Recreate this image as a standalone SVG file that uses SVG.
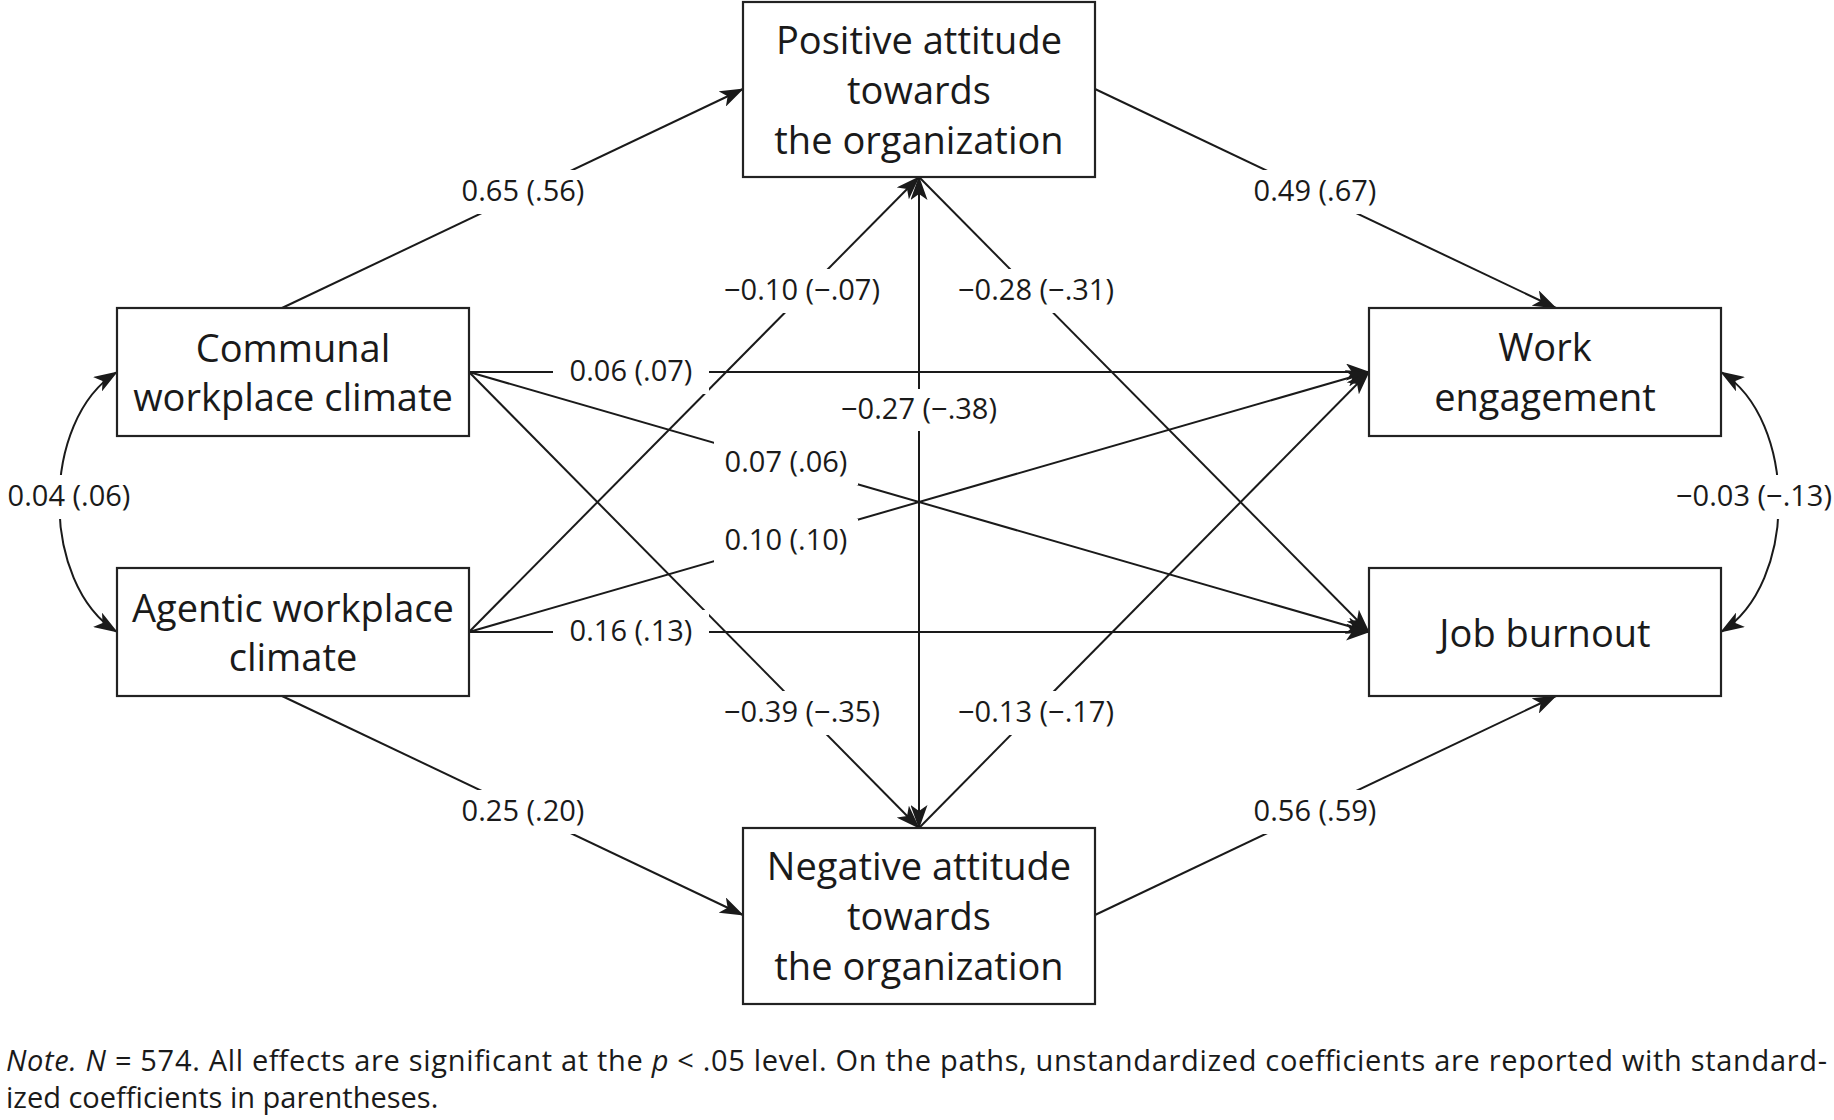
<svg xmlns="http://www.w3.org/2000/svg" width="1834" height="1120" viewBox="0 0 1834 1120">
  <defs>
    <marker id="ah" viewBox="0 0 24 17" markerUnits="userSpaceOnUse" markerWidth="24" markerHeight="17" refX="23" refY="8.5" orient="auto-start-reverse">
      <path d="M0,0 L24,8.5 L0,17 L6,8.5 Z" fill="#1a1a1a"/>
    </marker>
  </defs>
  <style>
    .box { fill: #ffffff; stroke: #222222; stroke-width: 2.2; }
    .node { font-family: "Open Sans", "Noto Sans", sans-serif; font-size: 38px; fill: #1a1a1a; text-anchor: middle; }
    .edge { fill: none; stroke: #1a1a1a; stroke-width: 2; }
    .arr { marker-end: url(#ah); }
    .both { marker-start: url(#ah); marker-end: url(#ah); }
    .lbl { font-family: "Open Sans", "Noto Sans", sans-serif; font-size: 29px; fill: #1a1a1a; text-anchor: middle; }
    .gap { fill: #ffffff; }
    .note { font-family: "Open Sans", "Noto Sans", sans-serif; font-size: 29px; fill: #1a1a1a; }
  </style>
  <rect x="0" y="0" width="1834" height="1120" fill="#ffffff"/>

  <g id="connectors">
    <line class="edge arr" x1="282" y1="308" x2="743" y2="89"/>
    <line class="edge arr" x1="1095" y1="89" x2="1556" y2="308"/>
    <line class="edge arr" x1="282" y1="696" x2="743" y2="915"/>
    <line class="edge arr" x1="1095" y1="915" x2="1556" y2="696"/>
    <line class="edge arr" x1="469" y1="372" x2="1369" y2="372"/>
    <line class="edge arr" x1="469" y1="632" x2="1369" y2="632"/>
    <line class="edge arr" x1="469" y1="372" x2="1369" y2="632"/>
    <line class="edge arr" x1="469" y1="632" x2="1369" y2="372"/>
    <line class="edge arr" x1="469" y1="372" x2="919" y2="828"/>
    <line class="edge arr" x1="469" y1="632" x2="919" y2="177"/>
    <line class="edge arr" x1="919" y1="177" x2="1369" y2="632"/>
    <line class="edge arr" x1="919" y1="828" x2="1369" y2="372"/>
    <line class="edge both" x1="919" y1="177" x2="919" y2="828"/>
    <path class="edge both" d="M117,372 C40,420 40,584 117,632"/>
    <path class="edge both" d="M1721,372 C1798,420 1798,584 1721,632"/>
  </g>

  <g id="edge-labels">
    <rect class="gap" x="451" y="170" width="145" height="44"/>
    <text class="lbl" x="523" y="201">0.65 (.56)</text>
    <rect class="gap" x="1243" y="170" width="145" height="44"/>
    <text class="lbl" x="1315" y="201">0.49 (.67)</text>
    <rect class="gap" x="713" y="269" width="178" height="44"/>
    <text class="lbl" x="802" y="300">−0.10 (−.07)</text>
    <rect class="gap" x="947" y="269" width="178" height="44"/>
    <text class="lbl" x="1036" y="300">−0.28 (−.31)</text>
    <rect class="gap" x="553" y="350" width="156" height="44"/>
    <text class="lbl" x="631" y="381">0.06 (.07)</text>
    <rect class="gap" x="833" y="389" width="172" height="42"/>
    <text class="lbl" x="919" y="419">−0.27 (−.38)</text>
    <rect class="gap" x="714" y="441" width="144" height="44"/>
    <text class="lbl" x="786" y="472">0.07 (.06)</text>
    <rect class="gap" x="1" y="475" width="136" height="44"/>
    <text class="lbl" x="69" y="506">0.04 (.06)</text>
    <rect class="gap" x="1672" y="475" width="162" height="44"/>
    <text class="lbl" x="1754" y="506">−0.03 (−.13)</text>
    <rect class="gap" x="714" y="519" width="144" height="44"/>
    <text class="lbl" x="786" y="550">0.10 (.10)</text>
    <rect class="gap" x="553" y="610" width="156" height="44"/>
    <text class="lbl" x="631" y="641">0.16 (.13)</text>
    <rect class="gap" x="713" y="691" width="178" height="44"/>
    <text class="lbl" x="802" y="722">−0.39 (−.35)</text>
    <rect class="gap" x="947" y="691" width="178" height="44"/>
    <text class="lbl" x="1036" y="722">−0.13 (−.17)</text>
    <rect class="gap" x="451" y="790" width="145" height="44"/>
    <text class="lbl" x="523" y="821">0.25 (.20)</text>
    <rect class="gap" x="1243" y="790" width="145" height="44"/>
    <text class="lbl" x="1315" y="821">0.56 (.59)</text>
  </g>

  <g id="node-positive">
    <rect class="box" x="743" y="2" width="352" height="175"/>
    <text class="node" x="919" y="54">Positive attitude</text>
    <text class="node" x="919" y="104">towards</text>
    <text class="node" x="919" y="154">the organization</text>
  </g>
  <g id="node-communal">
    <rect class="box" x="117" y="308" width="352" height="128"/>
    <text class="node" x="293" y="362">Communal</text>
    <text class="node" x="293" y="411">workplace climate</text>
  </g>
  <g id="node-agentic">
    <rect class="box" x="117" y="568" width="352" height="128"/>
    <text class="node" x="293" y="622">Agentic workplace</text>
    <text class="node" x="293" y="671">climate</text>
  </g>
  <g id="node-work">
    <rect class="box" x="1369" y="308" width="352" height="128"/>
    <text class="node" x="1545" y="361">Work</text>
    <text class="node" x="1545" y="411">engagement</text>
  </g>
  <g id="node-burnout">
    <rect class="box" x="1369" y="568" width="352" height="128"/>
    <text class="node" x="1545" y="647">Job burnout</text>
  </g>
  <g id="node-negative">
    <rect class="box" x="743" y="828" width="352" height="176"/>
    <text class="node" x="919" y="880">Negative attitude</text>
    <text class="node" x="919" y="930">towards</text>
    <text class="node" x="919" y="980">the organization</text>
  </g>

  <g id="note">
    <text class="note" x="6" y="1071" textLength="1821" lengthAdjust="spacing"><tspan font-style="italic">Note.</tspan> <tspan font-style="italic">N</tspan> = 574. All effects are significant at the <tspan font-style="italic">p</tspan> &lt; .05 level. On the paths, unstandardized coefficients are reported with standard-</text>
    <text class="note" x="6" y="1108">ized coefficients in parentheses.</text>
  </g>
</svg>
